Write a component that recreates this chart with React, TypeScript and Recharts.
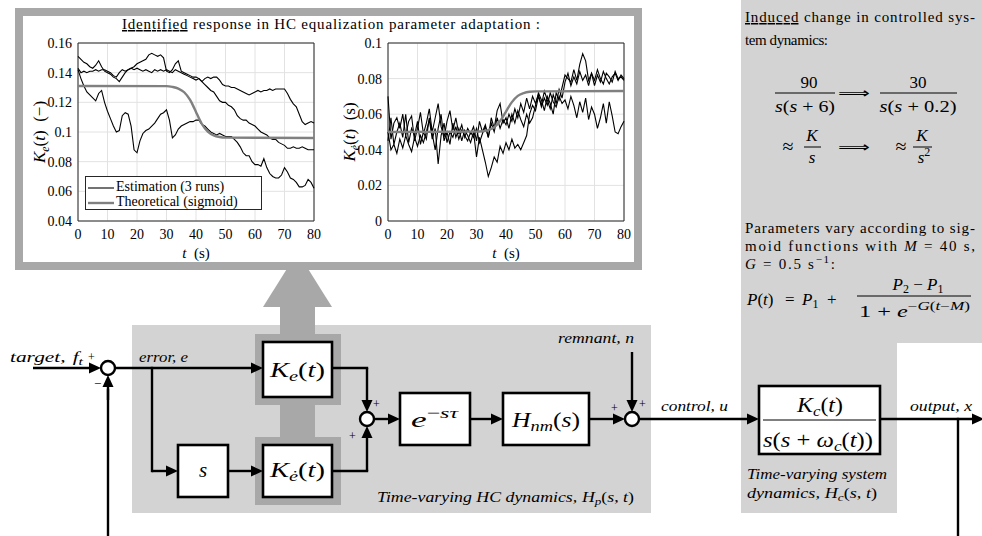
import React from 'react'
import { LineChart, Line, XAxis, YAxis, CartesianGrid, ReferenceArea } from 'recharts'

const SERIF = '"Liberation Serif", "Times New Roman", Times, serif'
const LIGHT = '#d3d3d3'
const MID = '#a8a8a8'

// time axis (s), one sample per second
const timeS = [
  0, 1, 2, 3, 4, 5, 6, 7, 8, 9, 10, 11, 12, 13, 14, 15, 16, 17, 18, 19, 20,
  21, 22, 23, 24, 25, 26, 27, 28, 29, 30, 31, 32, 33, 34, 35, 36, 37, 38, 39, 40,
  41, 42, 43, 44, 45, 46, 47, 48, 49, 50, 51, 52, 53, 54, 55, 56, 57, 58, 59, 60,
  61, 62, 63, 64, 65, 66, 67, 68, 69, 70, 71, 72, 73, 74, 75, 76, 77, 78, 79, 80,
]

// K_e(t) estimates, three runs
const keRun1 = [
  0.151, 0.149, 0.147, 0.146, 0.144, 0.143, 0.145, 0.148, 0.144, 0.141,
  0.140, 0.139, 0.137, 0.136, 0.134, 0.137, 0.140, 0.142, 0.143, 0.144,
  0.146, 0.147, 0.148, 0.149, 0.152, 0.153, 0.152, 0.151, 0.152, 0.150,
  0.141, 0.140, 0.142, 0.146, 0.148, 0.141, 0.140, 0.139, 0.138, 0.137,
  0.137, 0.136, 0.134, 0.136, 0.137, 0.136, 0.137, 0.137, 0.135, 0.132,
  0.131, 0.131, 0.130, 0.130, 0.129, 0.128, 0.127, 0.126, 0.125, 0.126,
  0.127, 0.128, 0.127, 0.128, 0.128, 0.129, 0.128, 0.129, 0.129, 0.129,
  0.129, 0.126, 0.122, 0.119, 0.117, 0.112, 0.107, 0.105, 0.106, 0.107,
  0.106,
]
const keRun2 = [
  0.143, 0.140, 0.141, 0.140, 0.141, 0.141, 0.142, 0.141, 0.142, 0.142,
  0.141, 0.140, 0.138, 0.137, 0.140, 0.142, 0.141, 0.142, 0.143, 0.142,
  0.143, 0.142, 0.141, 0.142, 0.141, 0.140, 0.142, 0.141, 0.142, 0.141,
  0.142, 0.141, 0.140, 0.142, 0.141, 0.140, 0.139, 0.138, 0.137, 0.136,
  0.135, 0.136, 0.134, 0.132, 0.130, 0.128, 0.127, 0.124, 0.121, 0.120,
  0.120, 0.118, 0.117, 0.115, 0.111, 0.109, 0.108, 0.108, 0.106, 0.105,
  0.104, 0.102, 0.100, 0.099, 0.098, 0.096, 0.095, 0.095, 0.093, 0.092,
  0.091, 0.089, 0.089, 0.090, 0.089, 0.089, 0.090, 0.089, 0.088, 0.088,
  0.088,
]
const keRun3 = [
  0.142, 0.136, 0.131, 0.127, 0.125, 0.123, 0.121, 0.126, 0.128, 0.120,
  0.114, 0.109, 0.104, 0.100, 0.101, 0.111, 0.113, 0.112, 0.104, 0.088,
  0.086, 0.094, 0.099, 0.101, 0.102, 0.104, 0.106, 0.109, 0.112, 0.113,
  0.115, 0.108, 0.096, 0.098, 0.102, 0.104, 0.105, 0.106, 0.107, 0.107,
  0.108, 0.108, 0.105, 0.104, 0.102, 0.100, 0.099, 0.098, 0.099, 0.098,
  0.097, 0.097, 0.097, 0.095, 0.093, 0.090, 0.086, 0.084, 0.084, 0.080,
  0.078, 0.078, 0.077, 0.082, 0.076, 0.072, 0.070, 0.069, 0.069, 0.071,
  0.076, 0.073, 0.069, 0.068, 0.066, 0.063, 0.063, 0.064, 0.068, 0.066,
  0.062,
]

// K_edot(t) estimates, three runs
const kedRun1 = [
  0.070, 0.046, 0.055, 0.058, 0.052, 0.060, 0.048, 0.056, 0.059, 0.045,
  0.052, 0.061, 0.049, 0.055, 0.063, 0.050, 0.058, 0.066, 0.053, 0.047,
  0.056, 0.062, 0.051, 0.058, 0.049, 0.054, 0.047, 0.052, 0.049, 0.053,
  0.045, 0.056, 0.050, 0.054, 0.047, 0.058, 0.052, 0.062, 0.066, 0.055,
  0.058, 0.052, 0.060, 0.055, 0.062, 0.057, 0.053, 0.060, 0.055, 0.058,
  0.065, 0.072, 0.068, 0.062, 0.070, 0.066, 0.060, 0.072, 0.068, 0.075,
  0.082, 0.080, 0.078, 0.085, 0.079, 0.088, 0.094, 0.090, 0.079, 0.083,
  0.076, 0.082, 0.078, 0.084, 0.080, 0.077, 0.081, 0.083, 0.079, 0.082,
  0.080,
]
const kedRun2 = [
  0.045, 0.058, 0.043, 0.050, 0.055, 0.047, 0.060, 0.044, 0.052, 0.048,
  0.056, 0.043, 0.050, 0.046, 0.058, 0.049, 0.040, 0.052, 0.060, 0.045,
  0.050, 0.043, 0.055, 0.047, 0.052, 0.045, 0.051, 0.048, 0.044, 0.050,
  0.036, 0.047, 0.040, 0.033, 0.025, 0.030, 0.036, 0.033, 0.042, 0.038,
  0.044, 0.040, 0.046, 0.041, 0.043, 0.040, 0.044, 0.048, 0.060, 0.065,
  0.062, 0.070, 0.065, 0.073, 0.068, 0.063, 0.071, 0.066, 0.074, 0.069,
  0.078, 0.083, 0.076, 0.081, 0.077, 0.084, 0.079, 0.082, 0.076, 0.083,
  0.079, 0.085, 0.080, 0.077, 0.083, 0.081, 0.078, 0.084, 0.080, 0.081,
  0.079,
]
const kedRun3 = [
  0.050, 0.040, 0.043, 0.038, 0.046, 0.041, 0.048, 0.043, 0.039, 0.047,
  0.042, 0.048, 0.044, 0.050, 0.057, 0.046, 0.052, 0.032, 0.048, 0.055,
  0.044, 0.050, 0.047, 0.053, 0.046, 0.051, 0.048, 0.045, 0.050, 0.047,
  0.052, 0.044, 0.049, 0.053, 0.047, 0.055, 0.050, 0.058, 0.052, 0.057,
  0.054, 0.060, 0.056, 0.063, 0.058, 0.066, 0.061, 0.069, 0.063, 0.070,
  0.066, 0.071, 0.064, 0.069, 0.065, 0.072, 0.067, 0.064, 0.070, 0.066,
  0.068, 0.063, 0.070, 0.065, 0.058, 0.067, 0.061, 0.069, 0.057, 0.064,
  0.060, 0.052, 0.058, 0.066, 0.055, 0.067, 0.059, 0.050, 0.049, 0.053,
  0.056,
]

// theoretical sigmoid curves, sampled
const sigT = [0, 30, 32, 34, 36, 38, 39, 40, 41, 42, 44, 46, 48, 50, 80]
const keSigmoid = [0.131, 0.1309, 0.1304, 0.1293, 0.1268, 0.1216, 0.1178, 0.1135, 0.1092, 0.1054, 0.1002, 0.0977, 0.0966, 0.0962, 0.096]
const kedSigmoid = [0.05, 0.0502, 0.0504, 0.0511, 0.0527, 0.0562, 0.0587, 0.0615, 0.0643, 0.0668, 0.0703, 0.0719, 0.0726, 0.0728, 0.073]

const tTicks = [0, 10, 20, 30, 40, 50, 60, 70, 80]
const keTicks = [0.04, 0.06, 0.08, 0.1, 0.12, 0.14, 0.16]
const kedTicks = [0, 0.02, 0.04, 0.06, 0.08, 0.1]

const toPts = (ts: number[], vs: number[]) => ts.map((t, i) => ({ t, v: vs[i] }))

const tickStyle = { fill: '#000', fontSize: 14, fontFamily: SERIF }

function xTitle(props: any) {
  const vb = props.viewBox || { x: 54, y: 191, width: 236, height: 30 }
  return (
    <text x={vb.x + vb.width / 2} y={vb.y + 37} textAnchor="middle" fontFamily={SERIF} fontSize={15} fill="#000">
      <tspan fontStyle="italic">t</tspan>
      <tspan>{'\u00a0\u00a0(s)'}</tspan>
    </text>
  )
}

function yTitle(sub: string, unit: string) {
  return (props: any) => {
    const vb = props.viewBox || { x: 0, y: 13, width: 54, height: 178 }
    const cx = vb.x + 21
    const cy = vb.y + vb.height / 2
    return (
      <text x={cx} y={cy} transform={`rotate(-90 ${cx} ${cy})`} textAnchor="middle" fontFamily={SERIF} fontSize={17} fill="#000">
        <tspan fontStyle="italic">K</tspan>
        <tspan fontStyle="italic" fontSize={12} dy={4}>{sub}</tspan>
        <tspan dy={-4}>(</tspan>
        <tspan fontStyle="italic">t</tspan>
        <tspan>{')\u00a0\u00a0(' + unit + ')'}</tspan>
      </text>
    )
  }
}

function ParamChart({ left, runs, sigmoid, ticks, domain, sub, unit }: any) {
  return (
    <div style={{ position: 'absolute', left, top: 30 }}>
      <LineChart width={300} height={240} margin={{ top: 13, right: 10, bottom: 19, left: 0 }}>
        <CartesianGrid stroke="#e2e2e2" />
        <XAxis dataKey="t" type="number" domain={[0, 80]} ticks={tTicks} height={30} tickLine={false} axisLine={false} tick={tickStyle} label={xTitle} />
        <YAxis type="number" domain={domain} ticks={ticks} width={54} tickLine={false} axisLine={false} tickMargin={0} tick={tickStyle} label={yTitle(sub, unit)} />
        <ReferenceArea x1={0} x2={80} y1={domain[0]} y2={domain[1]} fill="#fff" fillOpacity={0} stroke="#262626" strokeWidth={1} strokeOpacity={1} />
        {runs.map((r: any, i: number) => (
          <Line key={i} data={r} dataKey="v" type="linear" stroke="#000" strokeWidth={1.1} dot={false} isAnimationActive={false} />
        ))}
        <Line data={sigmoid} dataKey="v" type="monotone" stroke="#808080" strokeWidth={2.4} dot={false} isAnimationActive={false} />
      </LineChart>
    </div>
  )
}

function Arrow({ x1, y1, x2, y2 }: { x1: number; y1: number; x2: number; y2: number }) {
  const dx = x2 - x1
  const dy = y2 - y1
  const len = Math.hypot(dx, dy)
  const ux = dx / len
  const uy = dy / len
  const hl = 12
  const hw = 5.5
  const bx = x2 - ux * hl
  const by = y2 - uy * hl
  const pts = `${x2},${y2} ${bx - uy * hw},${by + ux * hw} ${bx + uy * hw},${by - ux * hw}`
  return (
    <g>
      <line x1={x1} y1={y1} x2={bx + ux} y2={by + uy} stroke="#000" strokeWidth={2.4} />
      <polygon points={pts} fill="#000" />
    </g>
  )
}

function Wire({ x1, y1, x2, y2 }: { x1: number; y1: number; x2: number; y2: number }) {
  return <line x1={x1} y1={y1} x2={x2} y2={y2} stroke="#000" strokeWidth={2.4} strokeLinecap="square" />
}

function Box({ x, y, w, h }: { x: number; y: number; w: number; h: number }) {
  return <rect x={x} y={y} width={w} height={h} fill="#fff" stroke="#000" strokeWidth={2.6} />
}

function Sum({ cx, cy }: { cx: number; cy: number }) {
  return <circle cx={cx} cy={cy} r={7} fill="#fff" stroke="#000" strokeWidth={2.4} />
}

const WIDE = 'spacingAndGlyphs'

export default function App() {
  const keRuns = [toPts(timeS, keRun1), toPts(timeS, keRun2), toPts(timeS, keRun3)]
  const kedRuns = [toPts(timeS, kedRun1), toPts(timeS, kedRun2), toPts(timeS, kedRun3)]
  const it = { fontStyle: 'italic' as const }

  return (
    <div style={{ position: 'absolute', left: 0, top: 0, width: 982, height: 536, overflow: 'hidden', background: '#fff' }}>
      <svg width={982} height={536} style={{ position: 'absolute', left: 0, top: 0 }} fontFamily={SERIF} fill="#000">
        {/* shaded regions */}
        <rect x={132} y={325} width={519} height={188} fill={LIGHT} />
        <polygon points="741,0 982,0 982,343 897,343 897,513 741,513" fill={LIGHT} />

        {/* big arrow towards the results panel */}
        <polygon points="297.5,252 332,307 263,307" fill={MID} />
        <rect x={280} y={306} width={35} height={135} fill={MID} />
        <rect x={255} y={334} width={86} height={71} fill={MID} />
        <rect x={255} y={437} width={86} height={68} fill={MID} />

        {/* results panel frame */}
        <rect x={15} y={8} width={627} height={262} fill={MID} />
        <rect x={23} y={16} width={611} height={246} fill="#fff" />
        <text x={122} y={29} fontSize={15} textLength={418}>
          <tspan textDecoration="underline">Identified</tspan> response in HC equalization parameter adaptation :
        </text>

        {/* block diagram wiring */}
        <Arrow x1={33} y1={368} x2={101} y2={368} />
        <Wire x1={108} y1={536} x2={108} y2={390} />
        <Arrow x1={108} y1={400} x2={108} y2={375} />
        <Arrow x1={115} y1={368} x2={263} y2={368} />
        <Wire x1={152} y1={368} x2={152} y2={471} />
        <Arrow x1={152} y1={471} x2={178} y2={471} />
        <Arrow x1={228} y1={471} x2={263} y2={471} />
        <Wire x1={332} y1={368} x2={367} y2={368} />
        <Arrow x1={367} y1={368} x2={367} y2={412} />
        <Wire x1={332} y1={471} x2={367} y2={471} />
        <Arrow x1={367} y1={471} x2={367} y2={426} />
        <Arrow x1={374} y1={419} x2={400} y2={419} />
        <Arrow x1={470} y1={419} x2={503} y2={419} />
        <Arrow x1={589} y1={419} x2={625} y2={419} />
        <Arrow x1={632} y1={352} x2={632} y2={412} />
        <Arrow x1={639} y1={419} x2={759} y2={419} />
        <Arrow x1={880} y1={419} x2={984} y2={419} />
        <Wire x1={958} y1={419} x2={958} y2={536} />

        <Sum cx={108} cy={368} />
        <Sum cx={367} cy={419} />
        <Sum cx={632} cy={419} />

        <Box x={178} y={445} w={50} h={52} />
        <Box x={263} y={342} w={69} h={55} />
        <Box x={263} y={445} w={69} h={52} />
        <Box x={400} y={393} w={70} h={52} />
        <Box x={503} y={393} w={86} h={52} />
        <Box x={759} y={386} w={121} h={68} />
        <line x1={763} y1={420} x2={876} y2={420} stroke="#000" strokeWidth={1} />

        {/* box contents */}
        <text x={203} y={477} fontSize={21} textAnchor="middle" {...it}>s</text>
        <text x={270} y={377} fontSize={21} textLength={55} lengthAdjust={WIDE}>
          <tspan {...it}>K</tspan><tspan {...it} fontSize={15} dy={4}>e</tspan><tspan dy={-4}>(</tspan><tspan {...it}>t</tspan>)
        </text>
        <text x={270} y={477} fontSize={21} textLength={55} lengthAdjust={WIDE}>
          <tspan {...it}>K</tspan><tspan {...it} fontSize={15} dy={4}>ė</tspan><tspan dy={-4}>(</tspan><tspan {...it}>t</tspan>)
        </text>
        <text x={411} y={427} fontSize={22} textLength={47} lengthAdjust={WIDE}>
          <tspan {...it}>e</tspan><tspan fontSize={15} dy={-9}>−</tspan><tspan {...it} fontSize={15}>sτ</tspan>
        </text>
        <text x={512} y={427} fontSize={21} textLength={68} lengthAdjust={WIDE}>
          <tspan {...it}>H</tspan><tspan {...it} fontSize={15} dy={4}>nm</tspan><tspan dy={-4}>(</tspan><tspan {...it}>s</tspan>)
        </text>
        <text x={797} y={412} fontSize={20} textLength={46} lengthAdjust={WIDE}>
          <tspan {...it}>K</tspan><tspan {...it} fontSize={14} dy={4}>c</tspan><tspan dy={-4}>(</tspan><tspan {...it}>t</tspan>)
        </text>
        <text x={763} y={447} fontSize={20} textLength={110} lengthAdjust={WIDE}>
          <tspan {...it}>s</tspan>(<tspan {...it}>s</tspan> + <tspan {...it}>ω</tspan><tspan {...it} fontSize={14} dy={4}>c</tspan><tspan dy={-4}>(</tspan><tspan {...it}>t</tspan>))
        </text>

        {/* signal labels */}
        <text x={10} y={362} fontSize={15} textLength={73} lengthAdjust={WIDE}>
          <tspan {...it}>target,</tspan><tspan {...it} dx={5}>f</tspan><tspan {...it} fontSize={11} dy={3}>t</tspan>
        </text>
        <text x={88} y={361} fontSize={12}>+</text>
        <text x={94} y={388} fontSize={13}>−</text>
        <text x={139} y={362} fontSize={15} textLength={49} lengthAdjust={WIDE} {...it}>error, e</text>
        <text x={373} y={408} fontSize={12}>+</text>
        <text x={349} y={440} fontSize={12}>+</text>
        <text x={558} y={343} fontSize={15} textLength={76} lengthAdjust={WIDE} {...it}>remnant, n</text>
        <text x={611} y={412} fontSize={12}>+</text>
        <text x={639} y={408} fontSize={12}>+</text>
        <text x={661} y={411} fontSize={15} textLength={67} lengthAdjust={WIDE} {...it}>control, u</text>
        <text x={910} y={411} fontSize={15} textLength={62} lengthAdjust={WIDE} {...it}>output, x</text>
        <text x={377} y={502} fontSize={15} textLength={257} lengthAdjust={WIDE}>
          <tspan {...it}>Time-varying HC dynamics,</tspan>
          <tspan {...it} dx={4}>H</tspan><tspan {...it} fontSize={11} dy={3}>p</tspan><tspan dy={-3}>(</tspan><tspan {...it}>s</tspan>, <tspan {...it}>t</tspan>)
        </text>
        <text x={747} y={479} fontSize={15} textLength={140} lengthAdjust={WIDE} {...it}>Time-varying system</text>
        <text x={747} y={498} fontSize={15} textLength={130} lengthAdjust={WIDE}>
          <tspan {...it}>dynamics,</tspan>
          <tspan {...it} dx={4}>H</tspan><tspan {...it} fontSize={11} dy={3}>c</tspan><tspan dy={-3}>(</tspan><tspan {...it}>s</tspan>, <tspan {...it}>t</tspan>)
        </text>

        {/* right-hand notes */}
        <text x={745} y={22} fontSize={15} textLength={230}>
          <tspan textDecoration="underline">Induced</tspan> change in controlled sys-
        </text>
        <text x={745} y={45} fontSize={15} textLength={83}>tem dynamics:</text>

        <text x={809} y={88} fontSize={17} textAnchor="middle">90</text>
        <line x1={775} y1={93} x2={835} y2={93} stroke="#000" strokeWidth={1} />
        <text x={805} y={112} fontSize={17} textAnchor="middle" textLength={60} lengthAdjust={WIDE}>
          <tspan {...it}>s</tspan>(<tspan {...it}>s</tspan> + 6)
        </text>
        <text x={838} y={98} fontSize={15} fontFamily='"DejaVu Sans", sans-serif' textLength={32} lengthAdjust={WIDE}>⟹</text>
        <text x={918} y={88} fontSize={17} textAnchor="middle">30</text>
        <line x1={880} y1={93} x2={957} y2={93} stroke="#000" strokeWidth={1} />
        <text x={918} y={112} fontSize={17} textAnchor="middle" textLength={77} lengthAdjust={WIDE}>
          <tspan {...it}>s</tspan>(<tspan {...it}>s</tspan> + 0.2)
        </text>

        <text x={788} y={153} fontSize={20} textAnchor="middle">≈</text>
        <text x={812} y={141} fontSize={17} textAnchor="middle" {...it}>K</text>
        <line x1={804} y1={147} x2={821} y2={147} stroke="#000" strokeWidth={1} />
        <text x={812} y={163} fontSize={17} textAnchor="middle" {...it}>s</text>
        <text x={838} y={152} fontSize={15} fontFamily='"DejaVu Sans", sans-serif' textLength={32} lengthAdjust={WIDE}>⟹</text>
        <text x={901} y={153} fontSize={20} textAnchor="middle">≈</text>
        <text x={922} y={141} fontSize={17} textAnchor="middle" {...it}>K</text>
        <line x1={913} y1={147} x2={932} y2={147} stroke="#000" strokeWidth={1} />
        <text x={924} y={163} fontSize={17} textAnchor="middle">
          <tspan {...it}>s</tspan><tspan fontSize={12} dy={-7}>2</tspan>
        </text>

        <text x={745} y={233} fontSize={15} textLength={230}>Parameters vary according to sig-</text>
        <text x={745} y={251} fontSize={15} textLength={230}>
          moid functions with <tspan {...it}>M</tspan> = 40 s,
        </text>
        <text x={745} y={269} fontSize={15} textLength={90}>
          <tspan {...it}>G</tspan> = 0.5 s<tspan fontSize={11} dy={-6}>−1</tspan><tspan dy={6}>:</tspan>
        </text>

        <text x={747} y={305} fontSize={17}>
          <tspan {...it}>P</tspan>(<tspan {...it}>t</tspan>)
        </text>
        <text x={785} y={305} fontSize={17}>=</text>
        <text x={802} y={305} fontSize={17}>
          <tspan {...it}>P</tspan><tspan fontSize={12} dy={3}>1</tspan>
        </text>
        <text x={827} y={305} fontSize={17}>+</text>
        <text x={918} y={290} fontSize={17} textAnchor="middle">
          <tspan {...it}>P</tspan><tspan fontSize={12} dy={3}>2</tspan><tspan dy={-3}>{'\u00a0−\u00a0'}</tspan><tspan {...it}>P</tspan><tspan fontSize={12} dy={3}>1</tspan>
        </text>
        <line x1={857} y1={296} x2={971} y2={296} stroke="#000" strokeWidth={1} />
        <text x={859} y={317} fontSize={17} textLength={111} lengthAdjust={WIDE}>
          1 + <tspan {...it}>e</tspan><tspan fontSize={12} dy={-7}>−</tspan><tspan {...it} fontSize={12}>G</tspan><tspan fontSize={12}>(</tspan><tspan {...it} fontSize={12}>t</tspan><tspan fontSize={12}>−</tspan><tspan {...it} fontSize={12}>M</tspan><tspan fontSize={12}>)</tspan>
        </text>
      </svg>

      <ParamChart left={24} runs={keRuns} sigmoid={toPts(sigT, keSigmoid)} ticks={keTicks} domain={[0.04, 0.16]} sub="e" unit="−" />
      <ParamChart left={334} runs={kedRuns} sigmoid={toPts(sigT, kedSigmoid)} ticks={kedTicks} domain={[0, 0.1]} sub="ė" unit="s" />

      <div style={{ position: 'absolute', left: 85, top: 176, width: 177, height: 34, boxSizing: 'border-box', border: '1px solid #262626', background: '#fff', fontFamily: SERIF, fontSize: 14, color: '#000' }}>
        <svg width={30} height={32} style={{ position: 'absolute', left: 0, top: 0 }}>
          <line x1={2} y1={11} x2={28} y2={11} stroke="#000" strokeWidth={1.1} />
          <line x1={2} y1={26} x2={28} y2={26} stroke="#808080" strokeWidth={2.4} />
        </svg>
        <span style={{ position: 'absolute', left: 30, top: 2, lineHeight: '16px', whiteSpace: 'nowrap' }}>Estimation (3 runs)</span>
        <span style={{ position: 'absolute', left: 30, top: 17, lineHeight: '16px', whiteSpace: 'nowrap' }}>Theoretical (sigmoid)</span>
      </div>
    </div>
  )
}
